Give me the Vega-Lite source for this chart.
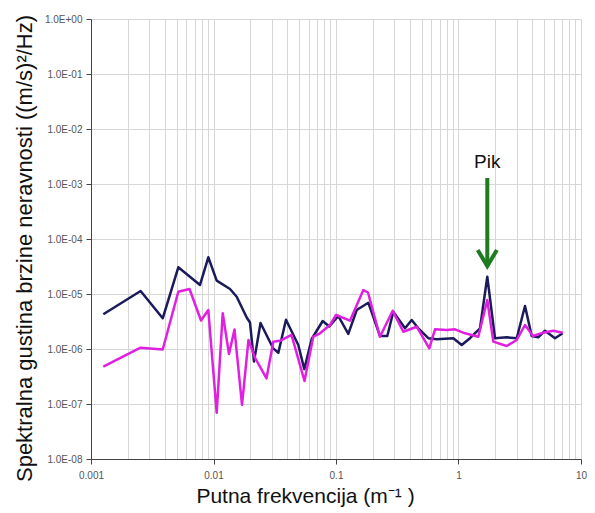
{
  "$schema": "https://vega.github.io/schema/vega-lite/v6.json",
  "width": 490,
  "height": 440,
  "autosize": {"type": "none"},
  "padding": {"left": 91, "top": 19, "right": 14, "bottom": 54},
  "background": "white",
  "config": {"view": {"stroke": null}, "font": "Liberation Sans"},
  "datasets": {
    "navy": [
      {"f": 0.00126, "s": 4.28e-6}, {"f": 0.00254, "s": 1.135e-5}, {"f": 0.00385, "s": 3.62e-6}, {"f": 0.00516, "s": 3.06e-5},
      {"f": 0.00776, "s": 1.46e-5}, {"f": 0.00907, "s": 4.65e-5}, {"f": 0.01062, "s": 1.75e-5}, {"f": 0.01364, "s": 1.23e-5},
      {"f": 0.01547, "s": 8.9e-6}, {"f": 0.01866, "s": 3.74e-6}, {"f": 0.01986, "s": 3.03e-6}, {"f": 0.02141, "s": 5.9e-7},
      {"f": 0.0242, "s": 2.97e-6}, {"f": 0.03059, "s": 1.04e-6}, {"f": 0.03381, "s": 8.5e-7}, {"f": 0.03906, "s": 3.41e-6},
      {"f": 0.04923, "s": 1.18e-6}, {"f": 0.0551, "s": 4.3e-7}, {"f": 0.06331, "s": 1.52e-6}, {"f": 0.07787, "s": 3.23e-6},
      {"f": 0.08817, "s": 2.57e-6}, {"f": 0.1044, "s": 3.98e-6}, {"f": 0.126, "s": 1.88e-6}, {"f": 0.1476, "s": 5.12e-6},
      {"f": 0.1835, "s": 6.95e-6}, {"f": 0.2286, "s": 1.72e-6}, {"f": 0.2623, "s": 1.72e-6}, {"f": 0.2936, "s": 4.77e-6},
      {"f": 0.3659, "s": 2.38e-6}, {"f": 0.415, "s": 3.37e-6}, {"f": 0.4696, "s": 2.38e-6}, {"f": 0.5669, "s": 1.57e-6},
      {"f": 0.6637, "s": 1.5e-6}, {"f": 0.907, "s": 1.57e-6}, {"f": 1.062, "s": 1.18e-6}, {"f": 1.241, "s": 1.57e-6},
      {"f": 1.498, "s": 2.38e-6}, {"f": 1.718, "s": 2.06e-5}, {"f": 1.986, "s": 1.57e-6}, {"f": 2.475, "s": 1.63e-6},
      {"f": 2.987, "s": 1.57e-6}, {"f": 3.491, "s": 6.05e-6}, {"f": 3.959, "s": 1.72e-6}, {"f": 4.481, "s": 1.63e-6},
      {"f": 5.083, "s": 2.15e-6}, {"f": 6.135, "s": 1.57e-6}, {"f": 7.089, "s": 1.93e-6}
    ],
    "magenta": [
      {"f": 0.00126, "s": 4.77e-7}, {"f": 0.00254, "s": 1.056e-6}, {"f": 0.00385, "s": 9.8e-7}, {"f": 0.00516, "s": 1.1e-5},
      {"f": 0.00637, "s": 1.23e-5}, {"f": 0.00791, "s": 3.3e-6}, {"f": 0.00907, "s": 5.12e-6}, {"f": 0.01062, "s": 6.9e-8},
      {"f": 0.01189, "s": 4.46e-6}, {"f": 0.01338, "s": 8.1e-7}, {"f": 0.01484, "s": 2.26e-6}, {"f": 0.01709, "s": 9.6e-8},
      {"f": 0.0193, "s": 1.46e-6}, {"f": 0.02182, "s": 6.9e-7}, {"f": 0.02708, "s": 2.93e-7}, {"f": 0.03077, "s": 1.36e-6},
      {"f": 0.03556, "s": 1.43e-6}, {"f": 0.04332, "s": 1.8e-6}, {"f": 0.05532, "s": 2.62e-7}, {"f": 0.06525, "s": 1.67e-6},
      {"f": 0.07403, "s": 1.93e-6}, {"f": 0.08933, "s": 2.73e-6}, {"f": 0.1, "s": 4.15e-6}, {"f": 0.1301, "s": 3.27e-6},
      {"f": 0.1671, "s": 1.18e-5}, {"f": 0.1825, "s": 1.065e-5}, {"f": 0.2286, "s": 1.67e-6}, {"f": 0.2903, "s": 4.97e-6},
      {"f": 0.3543, "s": 2.06e-6}, {"f": 0.4558, "s": 2.54e-6}, {"f": 0.5776, "s": 1.03e-6}, {"f": 0.6429, "s": 2.28e-6},
      {"f": 0.8012, "s": 2.22e-6}, {"f": 0.9363, "s": 2.28e-6}, {"f": 1.13, "s": 1.93e-6}, {"f": 1.451, "s": 1.67e-6},
      {"f": 1.718, "s": 7.78e-6}, {"f": 1.924, "s": 1.36e-6}, {"f": 2.475, "s": 1.135e-6}, {"f": 2.987, "s": 1.46e-6},
      {"f": 3.491, "s": 2.73e-6}, {"f": 4.057, "s": 1.72e-6}, {"f": 4.922, "s": 1.98e-6}, {"f": 5.942, "s": 2.15e-6},
      {"f": 7.089, "s": 1.98e-6}
    ],
    "arrow": [
      {"f": 1.718, "s": 0.001285}, {"f": 1.718, "s": 0.0000323}
    ],
    "tip": [{"f": 1.718, "s": 0.0000323}],
    "pik": [{"f": 1.718, "s": 0.00254, "label": "Pik"}]
  },
  "layer": [
    {
      "data": {"name": "navy"},
      "mark": {"type": "line", "color": "#1b1b5c", "strokeWidth": 2.5, "strokeJoin": "round"},
      "encoding": {
        "x": {
          "field": "f", "type": "quantitative",
          "scale": {"type": "log", "domain": [0.001, 10]},
          "axis": {
            "values": [0.001, 0.002, 0.003, 0.004, 0.005, 0.006, 0.007, 0.008, 0.009,
                       0.01, 0.02, 0.03, 0.04, 0.05, 0.06, 0.07, 0.08, 0.09,
                       0.1, 0.2, 0.3, 0.4, 0.5, 0.6, 0.7, 0.8, 0.9,
                       1, 2, 3, 4, 5, 6, 7, 8, 9, 10],
            "labelExpr": "abs(log(datum.value)/LN10 - round(log(datum.value)/LN10)) < 0.001 ? datum.value + '' : ''",
            "tickOpacity": {"condition": {"test": "abs(log(datum.value)/LN10 - round(log(datum.value)/LN10)) < 0.001", "value": 1}, "value": 0},
            "grid": true, "gridColor": "#d6d6d6", "gridWidth": 1,
            "domainColor": "#444", "tickColor": "#444", "tickSize": 5,
            "labelFontSize": 10, "labelColor": "#555", "labelPadding": 6,
            "labelFlush": false, "labelOverlap": false,
            "title": "Putna frekvencija (m⁻¹ )", "titleFontSize": 21, "titleFontWeight": "normal",
            "titleColor": "#111", "titlePadding": 5, "titleX": 214, "titleAlign": "center"
          }
        },
        "y": {
          "field": "s", "type": "quantitative",
          "scale": {"type": "log", "domain": [1e-8, 1]},
          "axis": {
            "values": [1e-8, 1e-7, 1e-6, 1e-5, 1e-4, 1e-3, 1e-2, 1e-1, 1],
            "labelExpr": "'1.0E' + (round(log(datum.value)/LN10) >= 0 ? '+' : '-') + (abs(round(log(datum.value)/LN10)) < 10 ? '0' : '') + abs(round(log(datum.value)/LN10))",
            "grid": true, "gridColor": "#d6d6d6", "gridWidth": 1,
            "domainColor": "#444", "tickColor": "#444", "tickSize": 5,
            "labelFontSize": 10, "labelColor": "#555", "labelPadding": 4,
            "title": "Spektralna gustina brzine neravnosti ((m/s)²/Hz)", "titleFontSize": 22,
            "titleFontWeight": "normal", "titleColor": "#111", "titlePadding": 8, "titleY": 229, "titleAlign": "center"
          }
        }
      }
    },
    {
      "data": {"name": "magenta"},
      "mark": {"type": "line", "color": "#e020e0", "strokeWidth": 2.5, "strokeJoin": "round"},
      "encoding": {
        "x": {"field": "f", "type": "quantitative"},
        "y": {"field": "s", "type": "quantitative"}
      }
    },
    {
      "data": {"name": "arrow"},
      "mark": {"type": "line", "color": "#1e7b1e", "strokeWidth": 4},
      "encoding": {
        "x": {"field": "f", "type": "quantitative"},
        "y": {"field": "s", "type": "quantitative"}
      }
    },
    {
      "data": {"name": "tip"},
      "mark": {"type": "point", "shape": "M-0.6,-1L0,0L0.6,-1", "filled": false, "size": 1024, "stroke": "#1e7b1e", "strokeWidth": 4, "opacity": 1},
      "encoding": {
        "x": {"field": "f", "type": "quantitative"},
        "y": {"field": "s", "type": "quantitative"}
      }
    },
    {
      "data": {"name": "pik"},
      "mark": {"type": "text", "fontSize": 19, "color": "#111", "baseline": "middle", "align": "center"},
      "encoding": {
        "x": {"field": "f", "type": "quantitative"},
        "y": {"field": "s", "type": "quantitative"},
        "text": {"field": "label"}
      }
    }
  ]
}
